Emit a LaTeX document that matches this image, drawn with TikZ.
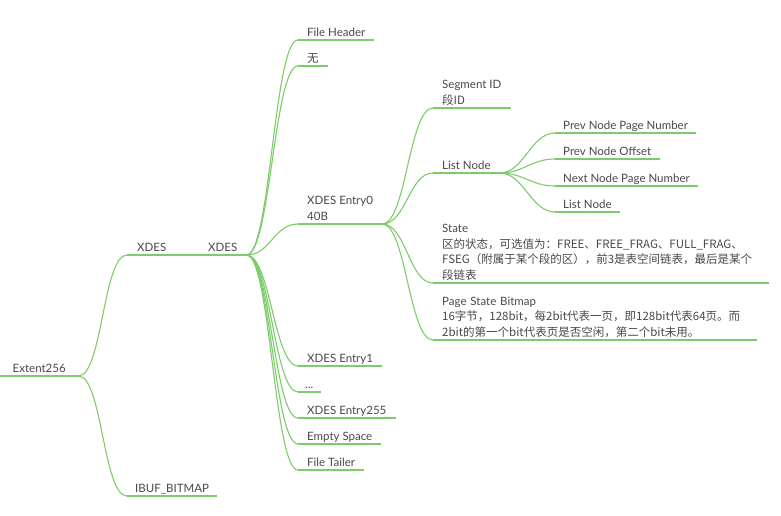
\documentclass[tikz,border=0pt]{standalone}
\usepackage{fontspec}
\setmainfont{Lato}
\newfontfamily\cjk{Noto Sans CJK SC}
\usepackage{tikz}
\usepackage{xcolor}
\definecolor{mapgreen}{RGB}{124,204,105}
\definecolor{mapgray}{RGB}{72,72,72}

\tikzset{
  topic/.style={anchor=south west,inner xsep=9pt,inner ysep=3.5pt,text depth=0pt,
    align=left,text=mapgray,font=\fontsize{11.5}{15.5}\selectfont},
  uline/.style={draw=mapgreen,line width=1.1pt},
  branch/.style={draw=mapgreen,line width=1.1pt,
    to path={.. controls +(24pt,0) and +(-24pt,0) .. (\tikztotarget)}}
}

\begin{document}
\begin{tikzpicture}[x=1pt,y=-1pt]
\useasboundingbox (0,0) rectangle (781,516);
% level 0 and 1
\node[topic,inner xsep=12.5pt] (root) at (0,376) {Extent256};
\node[topic,inner xsep=10pt] (xdes) at (127,255) {XDES};
\node[topic] (xdesb) at (199,255) {XDES};
\node[topic,inner xsep=8pt] (ibuf) at (127,496) {IBUF\_BITMAP};
% children of XDES
\node[topic] (fhead) at (298,40) {File Header};
\node[topic] (none) at (298,66) {{\cjk 无}};
\node[topic] (entry0) at (298,224) {XDES Entry0\\40B};
\node[topic] (entry1) at (298,366) {XDES Entry1};
\node[topic,inner xsep=7pt] (dots) at (298,392) {...};
\node[topic] (entry255) at (298,418) {XDES Entry255};
\node[topic] (empty) at (298,444) {Empty Space};
\node[topic] (ftail) at (298,470) {File Tailer};
% children of XDES Entry0
\node[topic] (segid) at (433,108) {Segment ID\\{\cjk 段ID}};
\node[topic] (lnode) at (433,173) {List Node};
\node[topic,text width=318pt,text depth=46.5pt] (state) at (433,283)
  {State\\{\cjk 区的状态，可选值为：FREE、FREE\_FRAG、FULL\_FRAG、}\\
   {\cjk FSEG（附属于某个段的区），前3是表空间链表，最后是某个}\\{\cjk 段链表}};
\node[topic,text width=306pt,text depth=31pt] (bitmap) at (433,340)
  {Page State Bitmap\\{\cjk 16字节，128bit，每2bit代表一页，即128bit代表64页。而}\\
   {\cjk 2bit的第一个bit代表页是否空闲，第二个bit未用。}};
% children of List Node
\node[topic,inner xsep=8pt] (prevpage) at (555,133) {Prev Node Page Number};
\node[topic,inner xsep=8pt] (prevoff) at (555,159) {Prev Node Offset};
\node[topic,inner xsep=8pt] (nextpage) at (555,186) {Next Node Page Number};
\node[topic,inner xsep=8pt] (lnodeb) at (555,212) {List Node};
% underlines
\foreach \n in {root,xdes,xdesb,ibuf,fhead,none,entry0,entry1,dots,entry255,empty,ftail,
  segid,lnode,state,bitmap,prevpage,prevoff,nextpage,lnodeb}
  \draw[uline] (\n.south west) -- (\n.south east);
% branches
\draw[uline] (xdes.south east) -- (xdesb.south west);
\foreach \c in {xdes,ibuf}
  \draw[branch] (root.south east) to (\c.south west);
\foreach \c in {fhead,none,entry0,entry1,dots,entry255,empty,ftail}
  \draw[branch] (xdesb.south east) to (\c.south west);
\foreach \c in {segid,lnode,state,bitmap}
  \draw[branch] (entry0.south east) to (\c.south west);
\foreach \c in {prevpage,prevoff,nextpage,lnodeb}
  \draw[branch] (lnode.south east) to (\c.south west);
\end{tikzpicture}
\end{document}
